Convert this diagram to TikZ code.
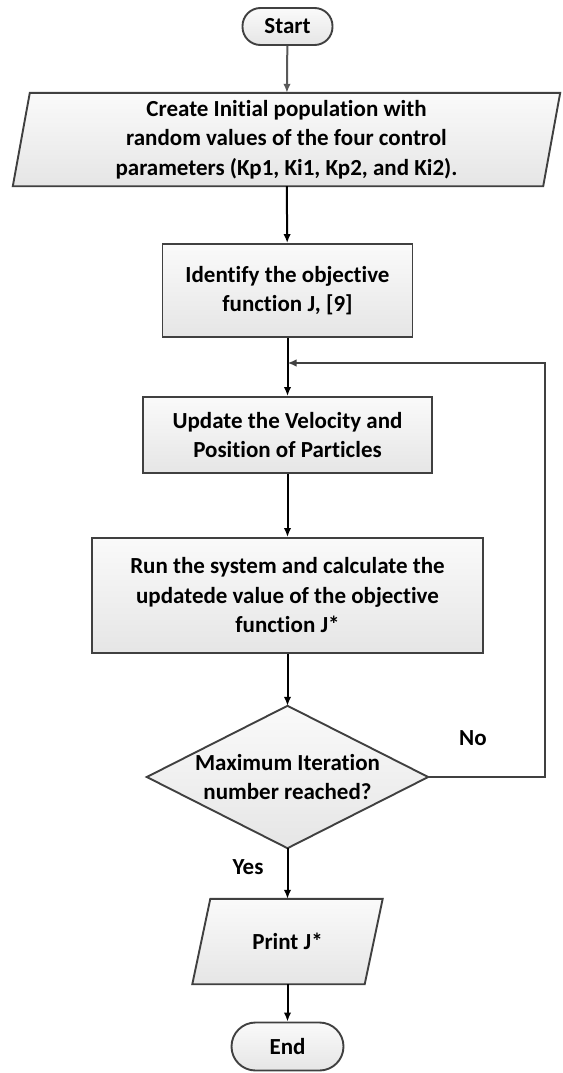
\documentclass[tikz,border=0pt]{standalone}
\usepackage{fontspec}
\setmainfont{Carlito}[Ligatures={NoCommon}]
\usetikzlibrary{arrows.meta,shapes.geometric,backgrounds}
\begin{document}
\begin{tikzpicture}[x=1pt,y=-1pt,
  font=\bfseries\fontsize{23}{29.5}\selectfont,
  shp/.style={draw=black!75, line width=1.9pt, top color=black!2, bottom color=black!10},
  term/.style={shp, rectangle, align=center, inner sep=0pt},
  proc/.style={shp, rectangle, align=center, inner sep=0pt},
  txt/.style={rectangle, align=center, inner sep=0pt},
  arr/.style={-{Latex[length=9pt,width=7.5pt]}, line width=2pt, draw=black},
  lbl/.style={inner sep=0pt}
]
\useasboundingbox (0,0) rectangle (562,1073);

\node[term, rounded corners=18pt, minimum width=90, minimum height=37] (start) at (287.5,26.5) {Start};
\node[txt, minimum width=547, minimum height=93] (init) at (286.5,139.5)
  {Create Initial population with\\random values of the four control\\parameters (Kp1, Ki1, Kp2, and Ki2).};
\node[proc, minimum width=250, minimum height=93] (ident) at (287.5,290.5)
  {Identify the objective\\function J, [9]};
\node[proc, minimum width=289, minimum height=76] (upd) at (287.5,435)
  {Update the Velocity and\\Position of Particles};
\node[proc, minimum width=391, minimum height=115] (run) at (287.5,595.5)
  {Run the system and calculate the\\updatede value of the objective\\function J*};
\node[txt, minimum width=281, minimum height=142] (chk) at (287.5,777)
  {Maximum Iteration\\number reached?};
\node[txt, minimum width=190, minimum height=85] (prt) at (287.5,941.5) {Print J*};
\node[term, rounded corners=24pt, minimum width=112, minimum height=48] (end) at (287.5,1046.5) {End};
\node[lbl] (no) at (473,738) {No};
\node[lbl] (yes) at (248,867) {Yes};

\begin{scope}[on background layer]
\draw[shp] ([xshift=17pt]init.north west) -- (init.north east)
  -- ([xshift=-17pt]init.south east) -- (init.south west) -- cycle;
\draw[shp] ([xshift=18pt]prt.north west) -- (prt.north east)
  -- ([xshift=-18pt]prt.south east) -- (prt.south west) -- cycle;
\draw[shp] (chk.north) -- (chk.east) -- (chk.south) -- (chk.west) -- cycle;
\end{scope}

\coordinate (fbr) at (545,363);
\coordinate (fbj) at (287.5,363);

\draw[arr, draw=black!65] (start) -- (init);
\draw[arr] (init) -- (ident);
\draw[arr] (ident) -- (upd);
\draw[arr] (upd) -- (run);
\draw[arr] (run) -- (chk);
\draw[arr] (chk) -- (prt);
\draw[arr] (prt) -- (end);
\draw[arr, draw=black!75] (chk.east) -| (fbr) -- (fbj);
\end{tikzpicture}
\end{document}
